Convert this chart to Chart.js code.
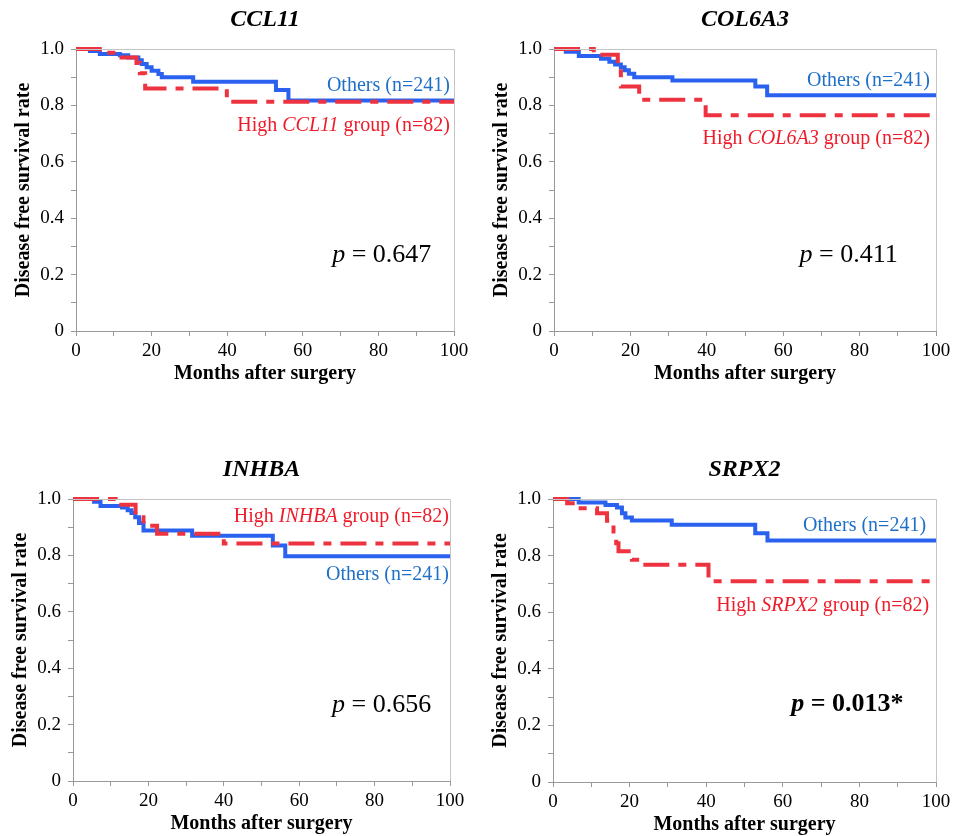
<!DOCTYPE html>
<html>
<head>
<meta charset="utf-8">
<script src="https://cdn.jsdelivr.net/npm/chart.js@4.4.1/dist/chart.umd.min.js"></script>
<style>
  html, body { margin: 0; padding: 0; background: #fff; overflow: hidden; }
  canvas { position: absolute; }
</style>
</head>
<body>
<script>
// Kaplan-Meier curves (months, disease free survival rate)
const ccl11OthersMonths = [0, 3.7, 6.3, 11.6, 13.8, 16.5, 17.4, 18.7, 20, 21.8, 22.7, 31, 52.9, 56.2, 100];
const ccl11OthersRate   = [1, 0.993, 0.982, 0.978, 0.97, 0.96, 0.947, 0.935, 0.923, 0.911, 0.9, 0.884, 0.855, 0.817, 0.817];
const ccl11HighMonths   = [0, 6.3, 11.2, 16, 16.9, 18.3, 39.9, 100];
const ccl11HighRate     = [1, 0.987, 0.97, 0.95, 0.914, 0.86, 0.813, 0.813];

const col6a3OthersMonths = [0, 3.1, 6.5, 12.3, 14.5, 16, 17.5, 18.5, 19.6, 21, 31, 52.7, 55.8, 100];
const col6a3OthersRate   = [1, 0.99, 0.975, 0.965, 0.955, 0.945, 0.935, 0.925, 0.912, 0.9, 0.888, 0.867, 0.836, 0.836];
const col6a3HighMonths   = [0, 10.4, 16.7, 17.5, 22.3, 39.7, 100];
const col6a3HighRate     = [1, 0.98, 0.93, 0.867, 0.82, 0.765, 0.765];

const inhbaOthersMonths = [0, 5.6, 7.3, 13, 14.5, 15.5, 16.5, 17.5, 18.7, 31.6, 53, 56.3, 100];
const inhbaOthersRate   = [1, 0.99, 0.975, 0.97, 0.96, 0.95, 0.935, 0.915, 0.888, 0.87, 0.835, 0.797, 0.797];
const inhbaHighMonths   = [0, 11.3, 16.6, 18.7, 22.3, 40, 100];
const inhbaHighRate     = [1, 0.98, 0.935, 0.905, 0.877, 0.842, 0.842];

const srpx2OthersMonths = [0, 6.7, 13.7, 16.7, 18, 18.9, 20.6, 31, 52.8, 56, 100];
const srpx2OthersRate   = [1, 0.988, 0.979, 0.97, 0.95, 0.935, 0.924, 0.909, 0.879, 0.853, 0.853];
const srpx2HighMonths   = [0, 3.7, 6.7, 11.5, 14.1, 15.8, 16.5, 17.1, 20.6, 23.2, 40.6, 100];
const srpx2HighRate     = [1, 0.985, 0.967, 0.95, 0.923, 0.885, 0.844, 0.815, 0.785, 0.768, 0.709, 0.709];

const genes   = ['CCL11', 'COL6A3', 'INHBA', 'SRPX2'];
const pValues = ['0.647', '0.411', '0.656', '0.013*'];

const SERIF = "'Liberation Serif', 'Times New Roman', serif";
const BLUE = '#2a62ef';
const RED = '#ee3340';
const BLUE_TEXT = '#1f70c8';
const RED_TEXT = '#ee1c2a';

function toPoints(months, rate) {
  return months.map((m, i) => ({ x: m, y: rate[i] }));
}

// draws title, frame, group labels and p value
const extrasPlugin = {
  id: 'extras',
  afterDraw(chart) {
    const { ctx, chartArea: a, scales: { x, y } } = chart;
    const o = chart.options.plugins.extras;
    ctx.save();
    // light frame on top and right
    ctx.strokeStyle = '#c4c4c4';
    ctx.lineWidth = 1;
    ctx.beginPath();
    ctx.moveTo(a.left, a.top + 0.5);
    ctx.lineTo(a.right + 0.5, a.top + 0.5);
    ctx.lineTo(a.right + 0.5, a.bottom);
    ctx.stroke();

    // title
    ctx.fillStyle = '#000';
    ctx.textBaseline = 'middle';
    ctx.textAlign = 'center';
    ctx.font = 'italic bold 24px ' + SERIF;
    ctx.fillText(o.gene, (a.left + a.right) / 2, a.top - 29);

    ctx.textAlign = 'left';
    const drawParts = (parts, xr, yc, size, color) => {
      let w = 0;
      parts.forEach(p => { ctx.font = p[1] + ' ' + size + 'px ' + SERIF; w += ctx.measureText(p[0]).width; });
      let cx = xr - w;
      ctx.fillStyle = color;
      parts.forEach(p => {
        ctx.font = p[1] + ' ' + size + 'px ' + SERIF;
        ctx.fillText(p[0], cx, yc);
        cx += ctx.measureText(p[0]).width;
      });
    };
    drawParts([['Others (n=241)', 'normal']], x.getPixelForValue(o.othersAt[0]), y.getPixelForValue(o.othersAt[1]), 20, BLUE_TEXT);
    drawParts([['High ', 'normal'], [o.gene, 'italic'], [' group (n=82)', 'normal']],
      x.getPixelForValue(o.highAt[0]), y.getPixelForValue(o.highAt[1]), 20, RED_TEXT);

    const w = o.bold ? 'bold' : 'normal';
    const pParts = [['p', 'italic ' + w], [' = ' + o.p, w]];
    drawParts(pParts, x.getPixelForValue(o.pAt[0]), y.getPixelForValue(o.pAt[1]), 26, '#000');
    ctx.restore();
  }
};

function makePanel(p) {
  const w = p.r - p.l, h = p.b - p.t;
  const canvas = document.createElement('canvas');
  canvas.width = 76 + w + 20;
  canvas.height = 49 + h + 57;
  canvas.style.left = (p.l - 76) + 'px';
  canvas.style.top = (p.t - 49) + 'px';
  document.body.appendChild(canvas);

  new Chart(canvas, {
    type: 'line',
    data: {
      datasets: [
        {
          label: 'High ' + p.gene,
          data: toPoints(p.highMonths, p.highRate),
          borderColor: RED,
          borderWidth: 4,
          borderDash: [26, 9, 8, 9],
          stepped: true,
          pointRadius: 0,
          fill: false,
          clip: false
        },
        {
          label: 'Others',
          data: toPoints(p.othersMonths, p.othersRate),
          borderColor: BLUE,
          borderWidth: 4,
          stepped: true,
          pointRadius: 0,
          fill: false,
          clip: false
        }
      ]
    },
    options: {
      responsive: false,
      animation: false,
      layout: { padding: { top: 49, right: 20, bottom: 0, left: 0 } },
      plugins: {
        legend: { display: false },
        tooltip: { enabled: false },
        extras: { gene: p.gene, p: p.pValue, bold: p.bold, othersAt: p.othersAt, highAt: p.highAt, pAt: p.pAt }
      },
      scales: {
        x: {
          type: 'linear',
          min: 0,
          max: 100,
          ticks: {
            stepSize: 10,
            autoSkip: false,
            maxRotation: 0,
            padding: 4,
            color: '#000',
            font: { family: SERIF, size: 19 },
            callback: v => (Math.round(v) % 20 === 0 ? String(Math.round(v)) : '')
          },
          grid: { drawOnChartArea: false, tickLength: 5, color: '#999' },
          border: { color: '#999' },
          title: {
            display: true,
            text: 'Months after surgery',
            color: '#000',
            font: { family: SERIF, size: 20, weight: 'bold' },
            padding: { top: 0, bottom: 2 }
          },
          afterFit: s => { s.height = 57; }
        },
        y: {
          min: 0,
          max: 1,
          ticks: {
            stepSize: 0.1,
            autoSkip: false,
            padding: 7,
            color: '#000',
            font: { family: SERIF, size: 19 },
            callback: v => {
              const k = Math.round(v * 10);
              if (k % 2 !== 0) return '';
              if (k === 0) return '0';
              return (k / 10).toFixed(1);
            }
          },
          grid: { drawOnChartArea: false, tickLength: 5, color: '#999' },
          border: { color: '#999' },
          title: {
            display: true,
            text: 'Disease free survival rate',
            color: '#000',
            font: { family: SERIF, size: 20, weight: 'bold' },
            padding: { top: 12, bottom: 0 }
          },
          afterFit: s => { s.width = 76; }
        }
      }
    },
    plugins: [extrasPlugin]
  });
}

makePanel({
  gene: genes[0], pValue: pValues[0], bold: false,
  l: 76, t: 49, r: 454, b: 331,
  othersMonths: ccl11OthersMonths, othersRate: ccl11OthersRate,
  highMonths: ccl11HighMonths, highRate: ccl11HighRate,
  othersAt: [98.9, 0.869], highAt: [98.9, 0.727], pAt: [94, 0.27]
});
makePanel({
  gene: genes[1], pValue: pValues[1], bold: false,
  l: 554, t: 49, r: 936, b: 331,
  othersMonths: col6a3OthersMonths, othersRate: col6a3OthersRate,
  highMonths: col6a3HighMonths, highRate: col6a3HighRate,
  othersAt: [98.4, 0.887], highAt: [98.4, 0.681], pAt: [90, 0.27]
});
makePanel({
  gene: genes[2], pValue: pValues[2], bold: false,
  l: 73, t: 499, r: 450, b: 781,
  othersMonths: inhbaOthersMonths, othersRate: inhbaOthersRate,
  highMonths: inhbaHighMonths, highRate: inhbaHighRate,
  othersAt: [99.7, 0.73], highAt: [99.7, 0.936], pAt: [95, 0.27]
});
makePanel({
  gene: genes[3], pValue: pValues[3], bold: true,
  l: 553, t: 499, r: 936, b: 782,
  othersAt: [97.4, 0.905], highAt: [98.2, 0.623], pAt: [91.5, 0.275],
  othersMonths: srpx2OthersMonths, othersRate: srpx2OthersRate,
  highMonths: srpx2HighMonths, highRate: srpx2HighRate
});
</script>
</body>
</html>
